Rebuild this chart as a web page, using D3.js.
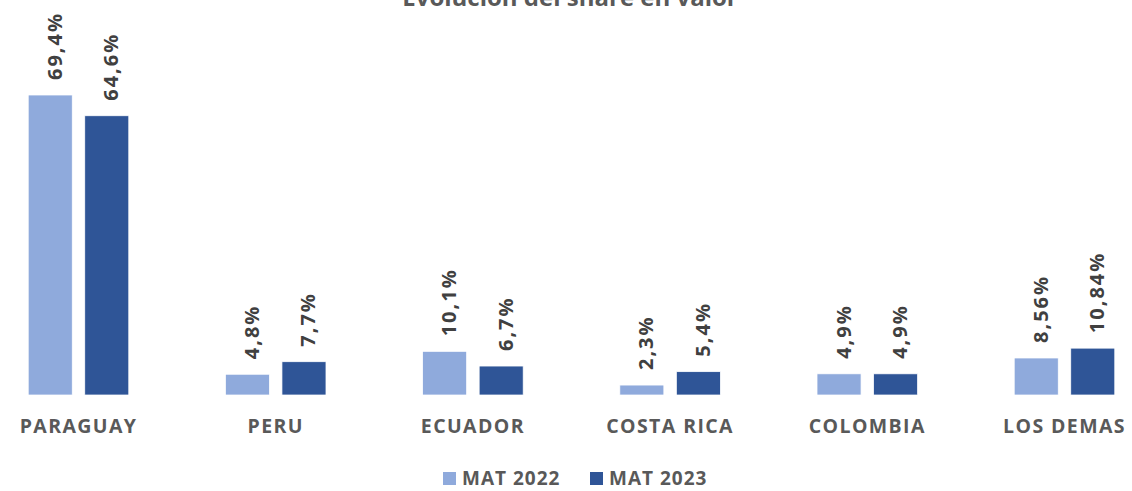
<!DOCTYPE html>
<html><head><meta charset="utf-8">
<script src="https://cdn.jsdelivr.net/npm/d3@7"></script>
<style>body{margin:0;background:#fff;} svg{display:block;font-family:"Open Sans",sans-serif;}</style>
</head><body>
<svg id="c" width="1132" height="491"></svg>
<script>
const categories = ["PARAGUAY","PERU","ECUADOR","COSTA RICA","COLOMBIA","LOS DEMAS"];
const seriesNames = ["MAT 2022","MAT 2023"];
const mat2022 = [69.4, 4.8, 10.1, 2.3, 4.9, 8.56];
const mat2023 = [64.6, 7.7, 6.7, 5.4, 4.9, 10.84];
const labels2022 = ["69,4%","4,8%","10,1%","2,3%","4,9%","8,56%"];
const labels2023 = ["64,6%","7,7%","6,7%","5,4%","4,9%","10,84%"];
const colors = ["#8FAADC","#2F5597"];
const title = "Evolución del share en valor";

const svg = d3.select("#c");
const baseY = 395;
const y = d3.scaleLinear().domain([0, 69.4]).range([baseY, 95]);
const x0 = d3.scaleBand().domain(categories).range([-20.1, 1163.1]).paddingInner(0.49).paddingOuter(0.245);
const x1 = d3.scaleBand().domain(seriesNames).range([0, x0.bandwidth()]).paddingInner(0.221);

const data = categories.map((c,i)=>({cat:c, vals:[
  {s:seriesNames[0], v:mat2022[i], l:labels2022[i]},
  {s:seriesNames[1], v:mat2023[i], l:labels2023[i]}]}));

svg.append("text").attr("x",570).attr("y",6).attr("text-anchor","middle")
  .attr("font-size",24).attr("font-weight",700).attr("fill","#595959").text(title);

const g = svg.selectAll("g.cat").data(data).join("g").attr("class","cat")
  .attr("transform",d=>`translate(${x0(d.cat)},0)`);

g.selectAll("rect").data(d=>d.vals).join("rect")
  .attr("x",d=>x1(d.s)).attr("width",x1.bandwidth())
  .attr("y",d=>y(d.v)).attr("height",d=>baseY-y(d.v))
  .attr("fill",(d,i)=>colors[i]).attr("stroke","#fff").attr("stroke-width",0.75);

g.selectAll("text.lbl").data(d=>d.vals).join("text").attr("class","lbl")
  .attr("transform",d=>`translate(${x1(d.s)+x1.bandwidth()/2+4},${y(d.v)-15}) rotate(-90)`)
  .attr("dominant-baseline","central")
  .attr("font-size",20).attr("font-weight",700).attr("letter-spacing",2).attr("fill","#404040")
  .text(d=>d.l);

svg.append("g").selectAll("text").data(categories).join("text")
  .attr("x",d=>x0(d)+x0.bandwidth()/2).attr("y",433)
  .attr("text-anchor","middle").attr("font-size",19.5).attr("font-weight",700)
  .attr("letter-spacing",1.4).attr("fill","#595959").text(d=>d);

const leg = svg.append("g");
const legX = [443, 590];
seriesNames.forEach((s,i)=>{
  leg.append("rect").attr("x",legX[i]).attr("y",472).attr("width",13).attr("height",13).attr("fill",colors[i]);
  leg.append("text").attr("x",legX[i]+19).attr("y",485).attr("font-size",19).attr("font-weight",700)
    .attr("letter-spacing",1).attr("fill","#595959").text(s);
});
</script>
</body></html>
